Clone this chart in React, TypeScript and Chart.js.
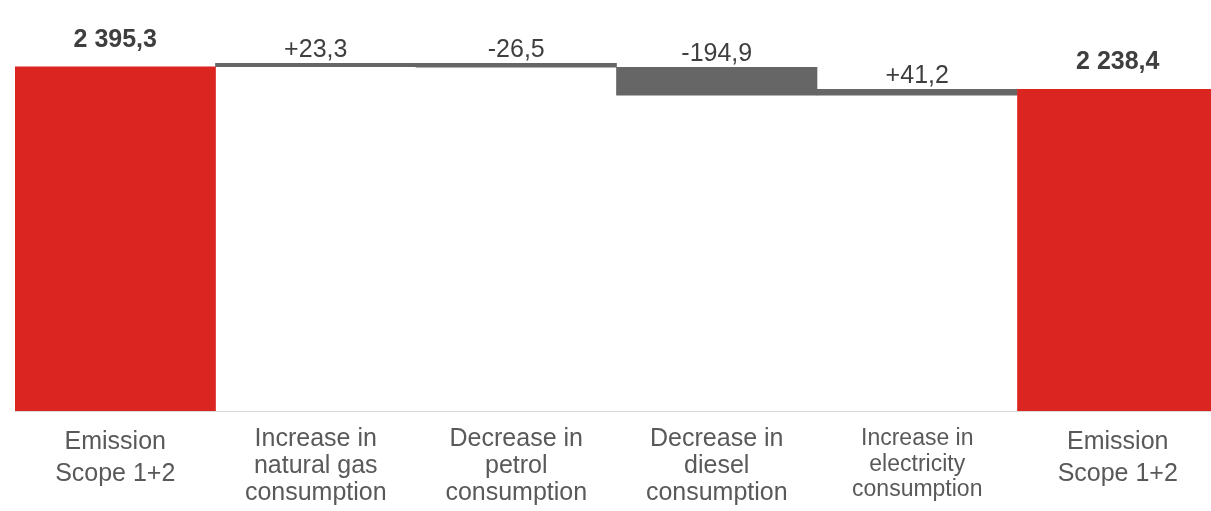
import React, { useEffect, useRef } from "react";
import { Chart, registerables } from "chart.js";

Chart.register(...registerables);

// Emission bridge (t CO2e): opening total, four changes, closing total
const categories: string[][] = [
  ["Emission", "Scope 1+2"],
  ["Increase in", "natural gas", "consumption"],
  ["Decrease in", "petrol", "consumption"],
  ["Decrease in", "diesel", "consumption"],
  ["Increase in", "electricity", "consumption"],
  ["Emission", "Scope 1+2"],
];
const openingTotal = 2395.3;
const changes = [23.3, -26.5, -194.9, 41.2];
const closingTotal = 2238.4;

const RED = "#DA2520";
const GREY = "#666666";
const FONT = "'Liberation Sans', Arial, sans-serif";

// Build floating [from, to] ranges for the waterfall
const ranges: [number, number][] = [];
const isTotal: boolean[] = [];
ranges.push([0, openingTotal]);
isTotal.push(true);
let running = openingTotal;
for (const c of changes) {
  ranges.push([running, running + c]);
  isTotal.push(false);
  running += c;
}
ranges.push([0, closingTotal]);
isTotal.push(true);
const labelValues: number[] = [openingTotal, ...changes, closingTotal];

function formatValue(v: number, signed: boolean): string {
  const [intPart, dec] = Math.abs(v).toFixed(1).split(".");
  const grouped = intPart.replace(/\B(?=(\d{3})+(?!\d))/g, " ");
  const sign = v < 0 ? "-" : signed ? "+" : "";
  return `${sign}${grouped},${dec}`;
}

const valueLabels = {
  id: "valueLabels",
  afterDatasetsDraw(chart: any) {
    const { ctx } = chart;
    const meta = chart.getDatasetMeta(0);
    ctx.save();
    ctx.textAlign = "center";
    ctx.textBaseline = "alphabetic";
    ctx.fillStyle = "#3f3f3f";
    meta.data.forEach((el: any, i: number) => {
      const total = isTotal[i];
      const top = Math.min(el.y, el.base);
      ctx.font = `${total ? "bold " : ""}25px ${FONT}`;
      ctx.fillText(formatValue(labelValues[i], !total), el.x, top - (total ? 20 : 6));
    });
    ctx.restore();
  },
};

export default function App() {
  const canvasRef = useRef<HTMLCanvasElement | null>(null);

  useEffect(() => {
    const canvas = canvasRef.current;
    if (!canvas) return;
    const chart = new Chart(canvas, {
      type: "bar",
      data: {
        labels: categories,
        datasets: [
          {
            data: ranges as any,
            backgroundColor: isTotal.map((t) => (t ? RED : GREY)),
            borderWidth: 0,
            barPercentage: 1,
            categoryPercentage: 1,
          },
        ],
      },
      options: {
        responsive: false,
        animation: false,
        devicePixelRatio: 1,
        layout: { padding: { left: 15, right: 0, top: 0, bottom: 0 } },
        plugins: {
          legend: { display: false },
          tooltip: { enabled: false },
        },
        scales: {
          x: {
            grid: { display: false, drawTicks: false },
            border: { display: true, color: "#d9d9d9", width: 1 },
            afterFit: (scale: any) => {
              scale.height = 100;
            },
            ticks: {
              autoSkip: false,
              maxRotation: 0,
              padding: 15,
              color: "#595959",
              font: (ctx: any) => {
                const lines = categories[ctx.index]?.length ?? 3;
                if (ctx.index === 4) return { family: FONT, size: 23, lineHeight: "25.5px" };
                if (lines === 2) return { family: FONT, size: 25, lineHeight: "32px" };
                return { family: FONT, size: 25, lineHeight: "27px" };
              },
            },
          },
          y: {
            display: false,
            min: 0,
            max: 2860,
          },
        },
      },
      plugins: [valueLabels],
    });
    return () => chart.destroy();
  }, []);

  return (
    <div style={{ position: "fixed", left: 0, top: 0, width: 1218, height: 511, background: "#fff" }}>
      <canvas ref={canvasRef} width={1218} height={511} style={{ width: 1218, height: 511, display: "block" }} />
    </div>
  );
}
